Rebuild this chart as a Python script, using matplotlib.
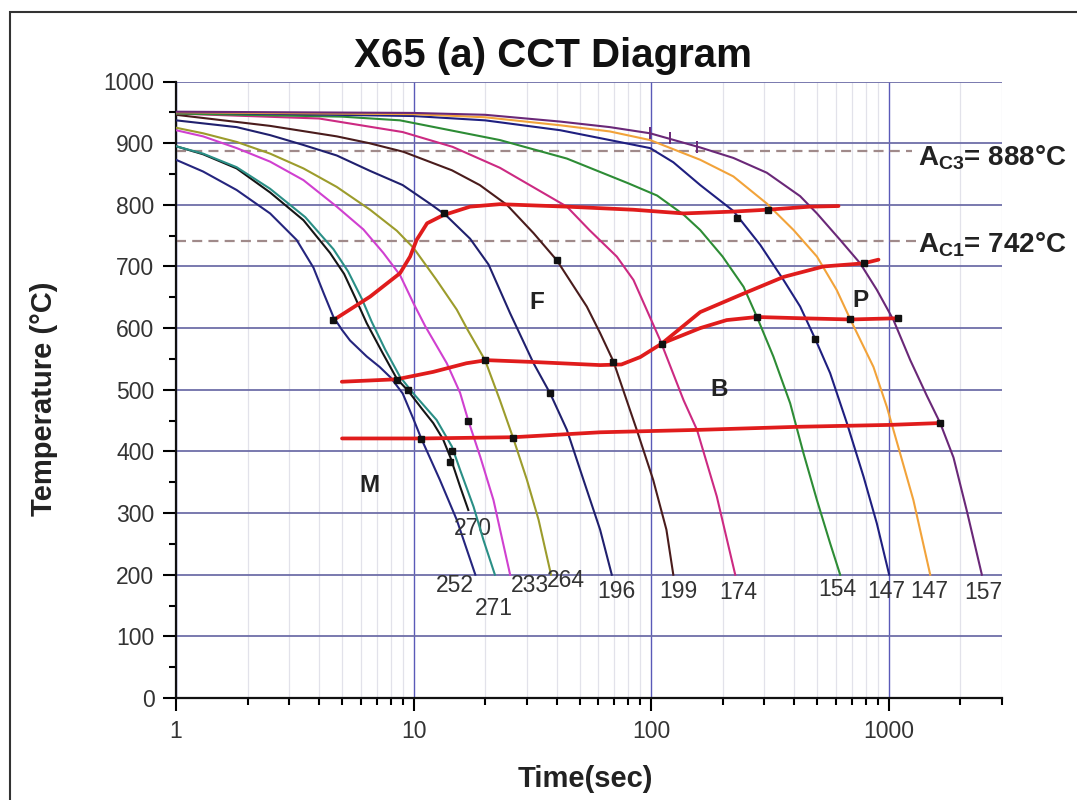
import matplotlib
matplotlib.use("Agg")
import matplotlib.pyplot as plt
from matplotlib.patches import Rectangle
from matplotlib.ticker import LogLocator, MultipleLocator, NullFormatter, FixedLocator, FixedFormatter

plt.rcParams["font.family"] = ["Liberation Sans", "DejaVu Sans"]
plt.rcParams["mathtext.fontset"] = "custom"
plt.rcParams["mathtext.rm"] = "Liberation Sans"
plt.rcParams["mathtext.bf"] = "Liberation Sans:bold"
plt.rcParams["mathtext.it"] = "Liberation Sans:italic"

# cooling curves, time (s) / temperature (C)
t_252 = [1, 1.3, 1.8, 2.49, 3.22, 3.79, 4.2, 4.6, 5.0, 5.4, 6.35, 7.2, 8.0, 9.0, 10.0, 10.8, 12.9, 15.2, 18.2]
T_252 = [873, 854, 824, 786, 743, 698, 655, 618, 597, 580, 554, 537, 520, 494, 452, 420, 354, 289, 200]
t_270 = [1, 1.3, 1.8, 2.49, 3.44, 4.45, 5.1, 5.67, 6.35, 7.4, 8.5, 9.5, 10.8, 12.1, 13.3, 14.3, 15.7, 17.0]
T_270 = [895, 882, 859, 820, 775, 722, 688, 650, 608, 560, 518, 498, 470, 446, 420, 390, 343, 305]
t_271 = [1, 1.3, 1.8, 2.49, 3.5, 4.6, 5.3, 6.05, 6.67, 7.6, 8.77, 9.98, 11.2, 12.5, 14.5, 15.7, 17.9, 19.7, 22.0]
T_271 = [895, 883, 861, 826, 780, 728, 692, 648, 610, 565, 521, 494, 472, 451, 408, 370, 310, 256, 200]
t_233 = [1, 1.3, 1.8, 2.49, 3.44, 4.75, 6.15, 7.46, 8.77, 10.0, 11.2, 13.8, 15.7, 17.0, 19.1, 21.7, 25.5]
T_233 = [921, 911, 892, 870, 840, 797, 760, 722, 686, 640, 603, 543, 495, 450, 391, 321, 200]
t_264 = [1, 1.3, 1.8, 2.49, 3.44, 4.75, 6.56, 8.5, 10.0, 12.5, 15.2, 16.9, 20.0, 23.1, 26.3, 30.0, 33.6, 37.9]
T_264 = [925, 916, 902, 883, 859, 829, 792, 758, 730, 678, 630, 597, 548, 483, 421, 354, 289, 200]
t_196 = [1, 1.8, 2.49, 3.44, 4.75, 6.56, 9.0, 11.7, 13.6, 17.3, 20.7, 25.5, 32.0, 37.6, 44.2, 51.9, 61.0, 68.3]
T_196 = [937, 926, 913, 897, 880, 855, 832, 802, 784, 745, 703, 624, 543, 494, 435, 354, 273, 200]
t_199 = [1, 2.49, 4.75, 6.5, 9.06, 14.5, 19, 24.7, 32, 40.1, 53.6, 61, 69.4, 78.9, 87, 102, 116, 124]
T_199 = [946, 928, 911, 900, 886, 856, 832, 800, 754, 710, 635, 592, 546, 483, 435, 354, 273, 200]
t_174 = [1, 4, 9.0, 14.6, 23.1, 44.2, 55, 71.7, 84.3, 109, 137, 156, 189, 226]
T_174 = [948, 940, 918, 894, 860, 797, 759, 716, 678, 581, 483, 435, 327, 200]
t_154 = [1, 5, 8.77, 23.1, 44.2, 80, 106, 137, 161, 200, 245, 279, 327, 385, 438, 499, 567, 625]
T_154 = [948, 943, 937, 905, 875, 835, 815, 784, 759, 716, 667, 618, 554, 478, 397, 321, 251, 200]
t_147a = [1, 10, 20, 41.4, 67, 99, 124, 161, 222, 288, 361, 424, 490, 567, 667, 784, 892, 1005]
T_147a = [950, 944, 937, 921, 905, 892, 869, 832, 790, 735, 678, 635, 583, 527, 446, 359, 283, 200]
t_147b = [1, 10, 20, 41.4, 67, 99, 161, 222, 307, 398, 499, 604, 690, 863, 983, 1117, 1271, 1496]
T_147b = [950, 947, 942, 929, 919, 905, 873, 846, 802, 759, 716, 662, 614, 537, 472, 397, 321, 200]
t_157 = [1, 10, 20, 41.4, 67, 99, 161, 222, 307, 424, 499, 625, 759, 892, 1048, 1233, 1449, 1648, 1875, 2135, 2468]
T_157 = [951, 949, 946, 935, 926, 916, 893, 876, 852, 814, 786, 743, 705, 662, 613, 548, 490, 446, 390, 303, 200]

hardness = ["252", "270", "271", "233", "264", "196", "199", "174", "154", "147", "147", "157"]

# transformation lines
ferrite_t = [4.6, 6.56, 8.77, 9.67, 10.3, 11.4, 13.3, 17.3, 23.1, 44.2, 84.3, 137, 222, 307, 467, 615]
ferrite_T = [613, 651, 689, 716, 743, 770, 783, 797, 801, 797, 792, 786, 789, 792, 797, 798]
bainite_t = [4.99, 8.5, 12.1, 16.7, 20.3, 32.0, 61, 75, 90, 111]
bainite_T = [513, 517, 529, 543, 548, 545, 540, 541, 553, 575]
pearlite_s_t = [111, 161, 245, 361, 532, 784, 906]
pearlite_s_T = [575, 626, 656, 683, 700, 705, 711]
pearlite_f_t = [111, 161, 208, 279, 424, 690, 1099]
pearlite_f_T = [575, 600, 613, 618, 616, 614, 616]
bfinish_t = [5.0, 10.8, 26.3, 61, 161, 424, 1014, 1648]
bfinish_T = [421, 421, 423, 431, 435, 440, 443, 446]

# measured points on the curves
dot_t = [4.6, 10.8, 8.5, 9.5, 14.5, 14.3, 17.0, 20.0, 26.3, 13.4, 37.6, 40.1, 69.4,
         111, 279, 229, 310, 490, 690, 784, 1099, 1648]
dot_T = [613, 420, 516, 500, 400, 383, 450, 548, 421, 786, 494, 710, 545,
         575, 618, 778, 792, 583, 614, 705, 616, 446]
notch_t = [99, 120, 156]
notch_T = [916, 909, 894]

Ac3 = 888
Ac1 = 742
Ac_end = [1256, 1330]

curves = [(t_252, T_252), (t_270, T_270), (t_271, T_271), (t_233, T_233),
          (t_264, T_264), (t_196, T_196), (t_199, T_199), (t_174, T_174),
          (t_154, T_154), (t_147a, T_147a), (t_147b, T_147b), (t_157, T_157)]
colors = ["#25257e", "#151515", "#2a8f86", "#d040d0", "#9c9c2c", "#20206e",
          "#4a1c1c", "#cc2a82", "#2d8c35", "#1f1f80", "#f2a33a", "#6a2878"]
label_off = [(-15, -8), (3, -13), (-1, -24), (14, -8), (11, -4), (3, -12),
             (4, -12), (2, -13), (-2, -11), (-2, -12), (-1, -12), (1, -13)]

fig = plt.figure(figsize=(10.77, 8), dpi=100)
ax = fig.add_axes([176 / 1077, 1 - 698 / 800, (1002 - 176) / 1077, (698 - 81.5) / 800])

for (t, T), c, lab, off in zip(curves, colors, hardness, label_off):
    ax.plot(t, T, color=c, lw=1.5, zorder=3, solid_joinstyle="round")
    ax.annotate(lab, (t[-1], T[-1]), xytext=off, textcoords="offset points",
                ha="center", va="center", fontsize=16.5, color="#333333")

ax.plot(notch_t, notch_T, "|", color="#6a2878", ms=8, mew=1.4, zorder=3)

red = "#e01c1c"
for t, T in [(ferrite_t, ferrite_T), (bainite_t, bainite_T), (pearlite_s_t, pearlite_s_T),
             (pearlite_f_t, pearlite_f_T), (bfinish_t, bfinish_T)]:
    ax.plot(t, T, color=red, lw=2.7, zorder=4, solid_joinstyle="round", solid_capstyle="round")

ax.plot(dot_t, dot_T, "s", color="#111111", ms=3.8, zorder=5)

for y, xe in zip([Ac3, Ac1], Ac_end):
    ax.plot([1, xe], [y, y], color="#a08a8a", lw=1.6, dashes=(4.5, 2.8), zorder=2, clip_on=False)

ax.text(1256 * 1.06, Ac3 - 25, r"$\mathbf{A}_{\mathbf{C3}}$= 888°C", fontsize=20,
        fontweight="bold", color="#222222", clip_on=False)
ax.text(1330 * 1.0, Ac1 - 20, r"$\mathbf{A}_{\mathbf{C1}}$= 742°C", fontsize=20,
        fontweight="bold", color="#222222", clip_on=False)

for s, x, y in [("F", 33, 642), ("B", 193, 500), ("P", 759, 645), ("M", 6.5, 345)]:
    ax.text(x, y, s, fontsize=17.5, fontweight="bold", color="#222222", ha="center", va="center")

ax.set_xscale("log")
ax.set_xlim(1, 3000)
ax.set_ylim(0, 1000)
ax.xaxis.set_major_locator(FixedLocator([1, 10, 100, 1000]))
ax.xaxis.set_major_formatter(FixedFormatter(["1", "10", "100", "1000"]))
ax.xaxis.set_minor_locator(LogLocator(base=10, subs=range(2, 10), numticks=20))
ax.xaxis.set_minor_formatter(NullFormatter())
ax.yaxis.set_major_locator(MultipleLocator(100))
ax.yaxis.set_minor_locator(MultipleLocator(50))

ax.xaxis.grid(True, which="major", color="#5a5ab8", lw=1.0, zorder=1)
ax.xaxis.grid(True, which="minor", color="#e2e2ea", lw=0.9, zorder=1)
ax.yaxis.grid(True, which="major", color="#6e6ea8", lw=1.3, zorder=1)
ax.set_axisbelow(True)
ygl = ax.get_ygridlines()
ygl[0].set_visible(False)
ygl[-1].set_visible(False)

for side in ["top", "right"]:
    ax.spines[side].set_visible(False)
for side in ["left", "bottom"]:
    ax.spines[side].set_linewidth(1.6)
    ax.spines[side].set_color("#111111")
ax.tick_params(which="major", direction="out", length=9.5, width=1.5, labelsize=16.5,
               labelcolor="#333333", pad=6)
ax.tick_params(which="minor", direction="out", length=5, width=1.5)

fig.text(553 / 1077, 1 - 67 / 800, "X65 (a) CCT Diagram", fontsize=29, fontweight="bold",
         ha="center", va="baseline", color="#111111")
fig.text(585 / 1077, 1 - 779 / 800, "Time(sec)", fontsize=21, fontweight="bold",
         ha="center", va="center", color="#222222")
fig.text(44 / 1077, 1 - 399 / 800, "Temperature (°C)", fontsize=21, fontweight="bold",
         ha="center", va="center", rotation=90, color="#222222")

fig.add_artist(Rectangle((10 / 1077, -0.05), 1.2, 1 - 12 / 800 + 0.05,
                         transform=fig.transFigure, fill=False, ec="#333333", lw=1.5))

fig.savefig("out.png", dpi=100)
plt.close(fig)
